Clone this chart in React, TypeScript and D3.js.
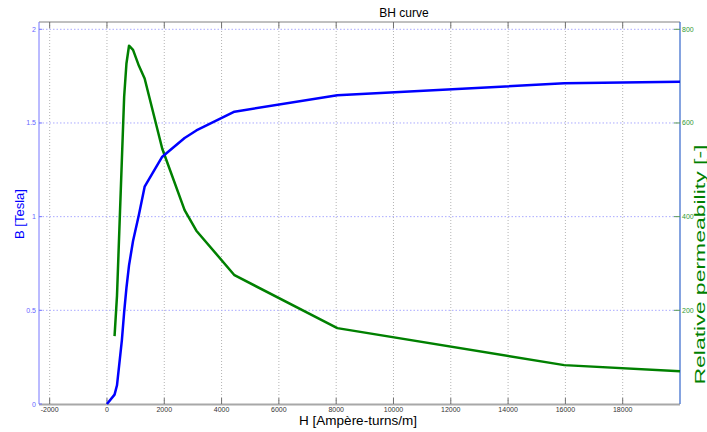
import React from "react";
import * as d3 from "d3";

const H = [0, 265, 350, 520, 600, 680, 770, 910, 1115, 1315, 1930, 2710, 3120, 4450, 8040, 15960, 20000];
const B = [0, 0.05, 0.1, 0.34, 0.49, 0.62, 0.74, 0.87, 1.01, 1.16, 1.32, 1.42, 1.46, 1.56, 1.648, 1.712, 1.72];
const MU: (number | null)[] = [null, 145, 231, 521, 656, 727, 765, 756, 722, 695, 545, 414, 370, 275, 162, 83, 70];

const xTicks = [-2000, 0, 2000, 4000, 6000, 8000, 10000, 12000, 14000, 16000, 18000];
const yTicks = [0, 0.5, 1, 1.5, 2];
const yTickLabels = ["0", "0.5", "1", "1.5", "2"];
const muTicks = [200, 400, 600, 800];

const W = 707;
const HT = 432;
const L = 39, R = 680, T = 22, BOT = 404;

export default function App() {
  const x = d3.scaleLinear().domain([-2372, 20000]).range([L, R]);
  const y = d3.scaleLinear().domain([0, 2.039]).range([BOT, T]);
  const y2 = d3.scaleLinear().domain([0, 815.6]).range([BOT, T]);

  const bLine = d3.line<number>().x((_, i) => x(H[i])).y((d) => y(d))(B) || "";
  const muLine =
    d3
      .line<number | null>()
      .defined((d) => d !== null)
      .x((_, i) => x(H[i]))
      .y((d) => y2(d as number))(MU) || "";

  const font = "'Liberation Sans', Arial, sans-serif";

  return (
    <svg
      width={W}
      height={HT}
      style={{ position: "absolute", left: 0, top: 0, background: "#fff" }}
      fontFamily={font}
    >
      <rect x={0} y={0} width={W} height={HT} fill="#fff" />
      {/* vertical grid */}
      {xTicks.map((t) => (
        <line key={"gx" + t} x1={x(t)} x2={x(t)} y1={T} y2={BOT} stroke="#b4b4b4" strokeWidth={1} strokeDasharray="1,2" />
      ))}
      {/* horizontal grid */}
      {yTicks.slice(1).map((t) => (
        <line key={"gy" + t} x1={L} x2={R} y1={y(t)} y2={y(t)} stroke="#aaaaff" strokeWidth={1} strokeDasharray="1.5,2" />
      ))}
      {/* frame */}
      <line x1={L} x2={R} y1={T} y2={T} stroke="#808080" strokeWidth={1} />
      <line x1={L} x2={R} y1={BOT + 0.5} y2={BOT + 0.5} stroke="#a8a8a8" strokeWidth={2} />
      {xTicks.map((t) => (
        <g key={"tx" + t}>
          <line x1={x(t)} x2={x(t)} y1={T} y2={T + 6} stroke="#707070" strokeWidth={1} />
          <line x1={x(t)} x2={x(t)} y1={BOT} y2={BOT - 6} stroke="#707070" strokeWidth={1} />
          <text x={x(t)} y={412} fontSize={7} fill="#333" textAnchor="middle">
            {t}
          </text>
        </g>
      ))}
      {/* left axis */}
      <line x1={L} x2={L} y1={T} y2={BOT} stroke="#7777ff" strokeWidth={1} />
      {yTicks.map((t, i) => (
        <g key={"ty" + t}>
          <line x1={L} x2={L + 3} y1={y(t)} y2={y(t)} stroke="#7777ff" strokeWidth={1} />
          <text x={36} y={y(t) + 2.5} fontSize={7} fill="#6666ff" textAnchor="end">
            {yTickLabels[i]}
          </text>
        </g>
      ))}
      {/* right axis */}
      <line x1={R} x2={R} y1={T} y2={BOT} stroke="#3366cc" strokeWidth={1.2} />
      {muTicks.map((t) => (
        <g key={"tm" + t}>
          <line x1={R - 6} x2={R} y1={y2(t)} y2={y2(t)} stroke="#5a9a5a" strokeWidth={1} />
          <text x={682} y={y2(t) + 2.5} fontSize={7} fill="#339933" textAnchor="start">
            {t}
          </text>
        </g>
      ))}
      {/* curves */}
      <path d={muLine} fill="none" stroke="#008000" strokeWidth={2.5} strokeLinejoin="round" />
      <path d={bLine} fill="none" stroke="#0000ff" strokeWidth={2.5} strokeLinejoin="round" />
      {/* labels */}
      <text x={404} y={16.5} fontSize={12} fill="#000" textAnchor="middle">
        BH curve
      </text>
      <text x={358} y={425} fontSize={13.5} fill="#000" textAnchor="middle">
        H [Ampère-turns/m]
      </text>
      <text transform="translate(24,214) rotate(-90)" fontSize={13} fill="#0000ff" textAnchor="middle">
        B [Tesla]
      </text>
      <text
        transform="translate(705,264.5) rotate(-90)"
        fontSize={14}
        fill="#008000"
        textAnchor="middle"
        textLength={240}
        lengthAdjust="spacingAndGlyphs"
      >
        Relative permeability [-]
      </text>
    </svg>
  );
}
